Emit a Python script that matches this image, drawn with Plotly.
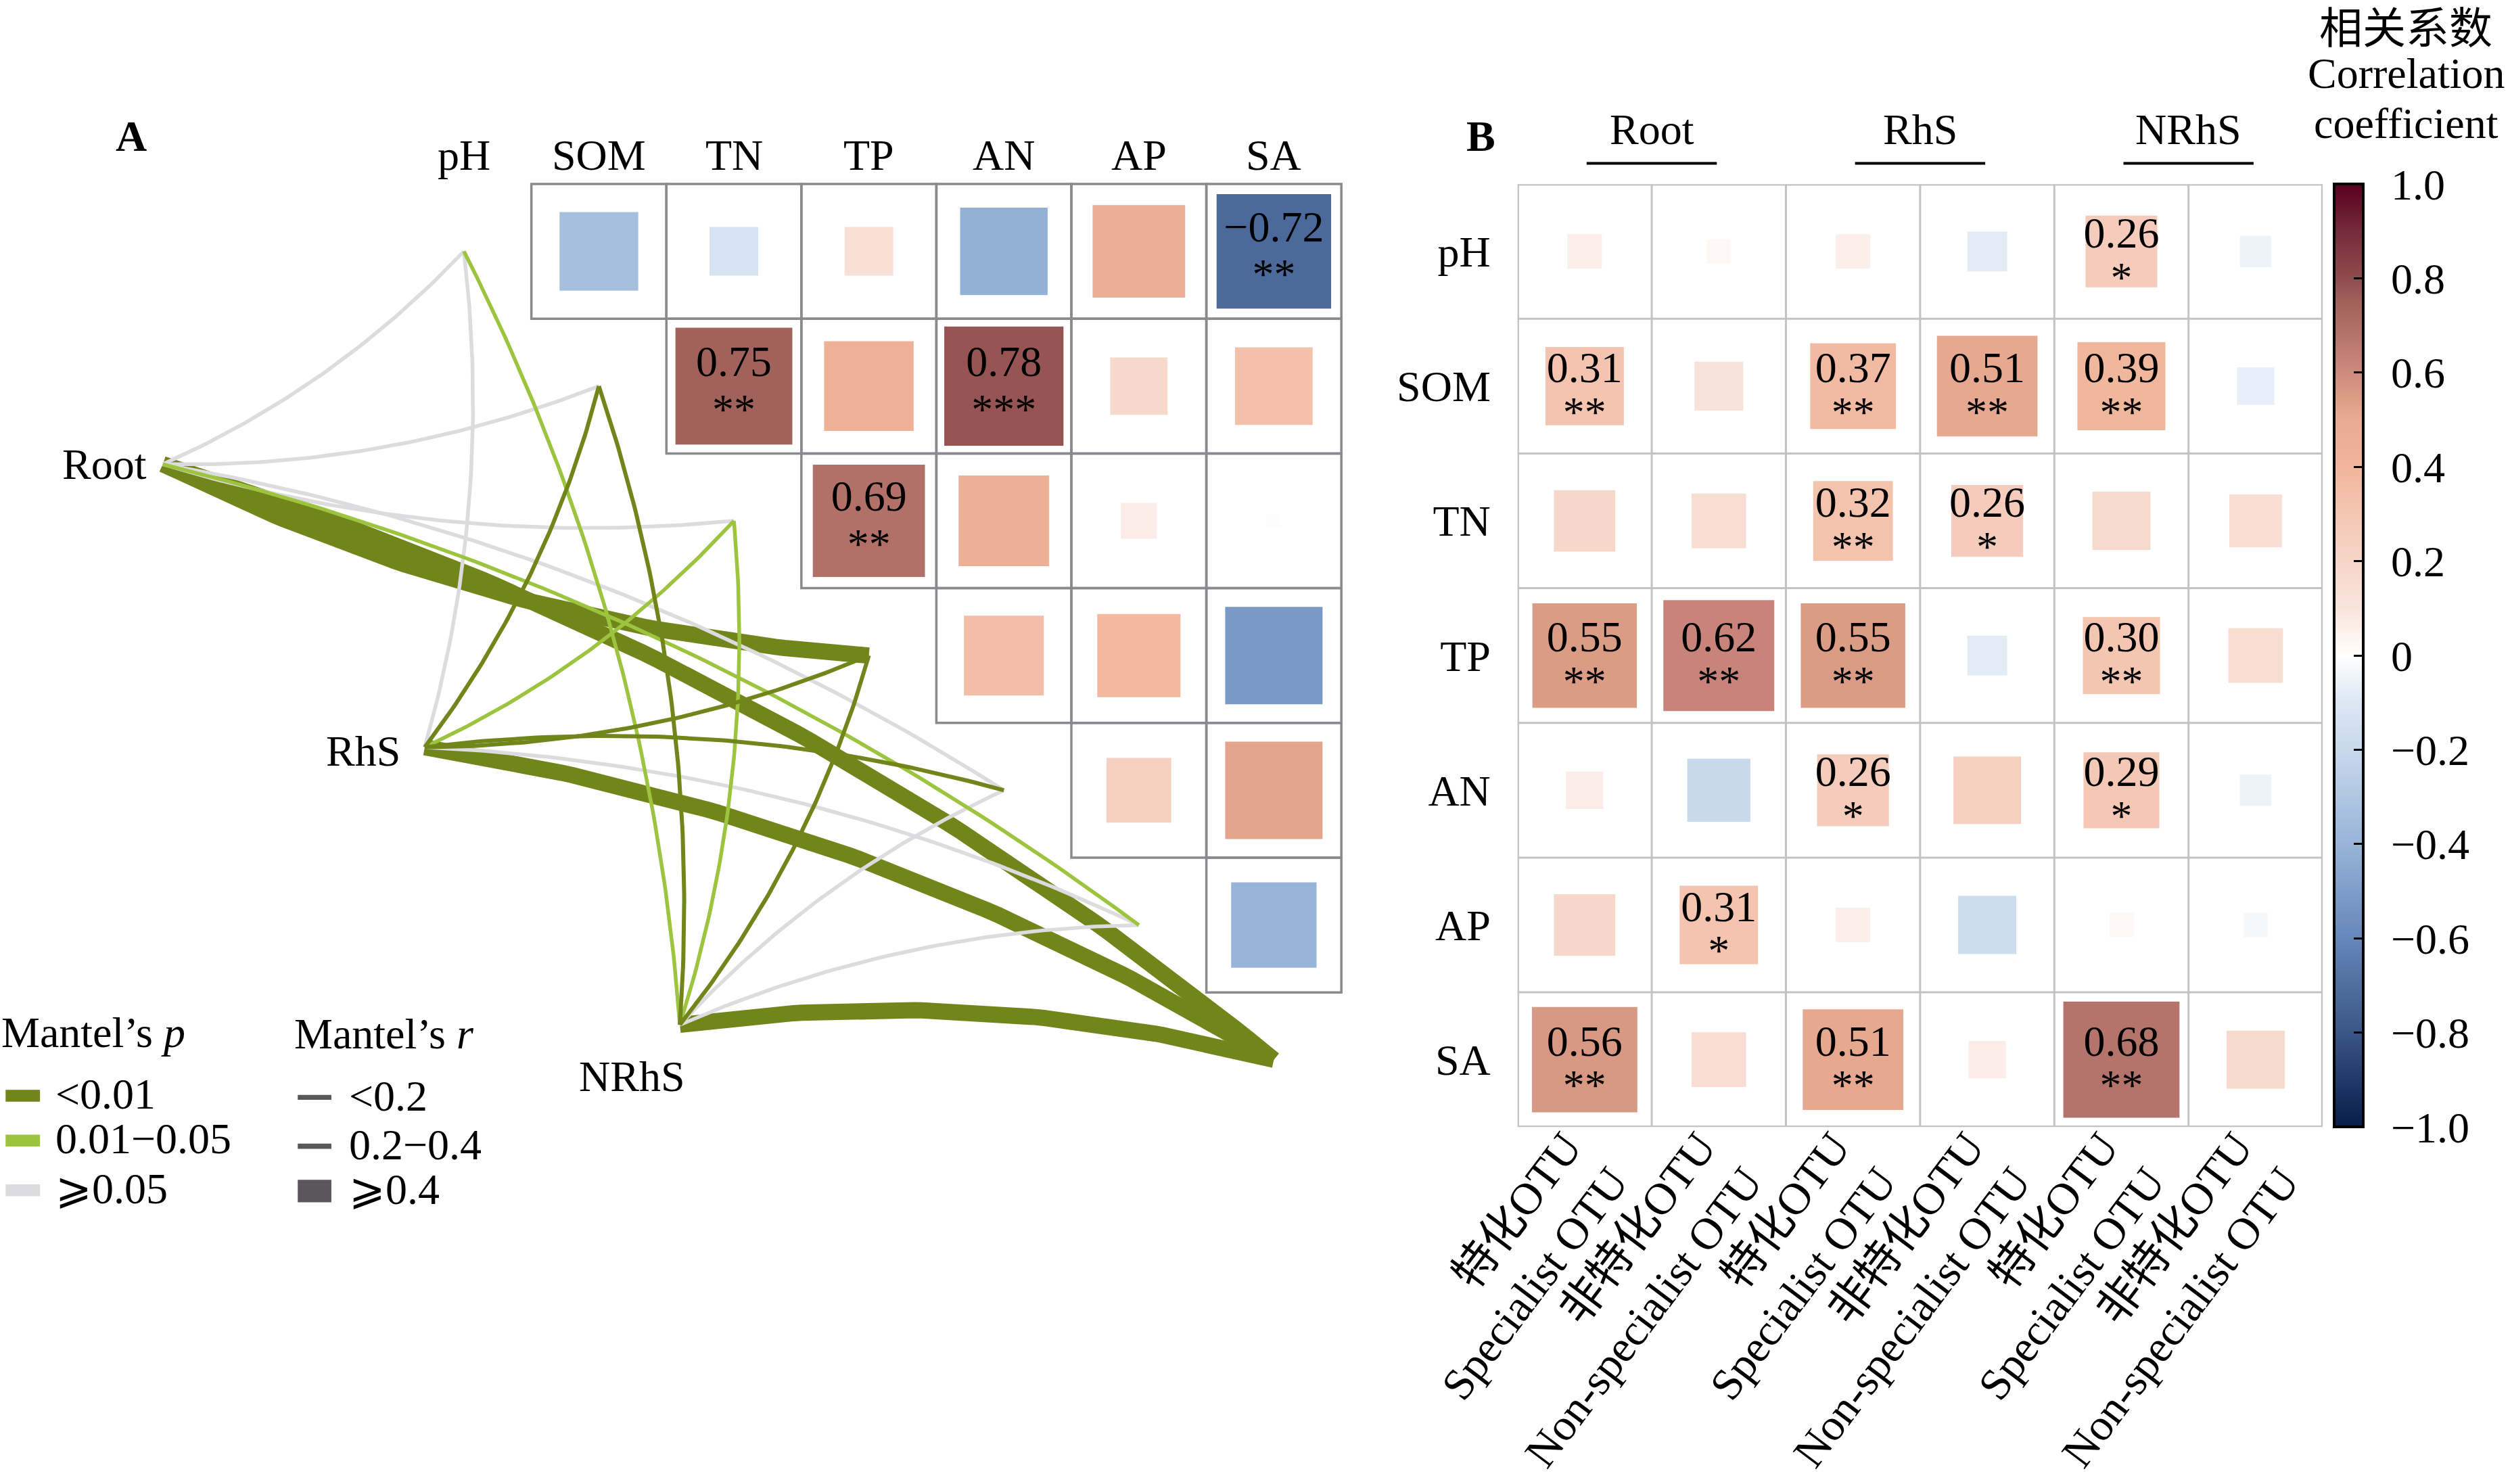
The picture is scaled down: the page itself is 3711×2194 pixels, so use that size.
import numpy as np
import plotly.graph_objects as go

W, H = 3711, 2194
K = W / 1568.0          # reference display px -> output px

FONT = "Liberation Serif, DejaVu Serif, Noto Sans CJK SC, serif"
FS = 64

# ---------------- data ----------------
env_vars = ["pH", "SOM", "TN", "TP", "AN", "AP", "SA"]

# Panel A: correlations among soil factors (upper triangle, row < column)
envA_row = ["pH"] * 6 + ["SOM"] * 5 + ["TN"] * 4 + ["TP"] * 3 + ["AN"] * 2 + ["AP"]
envA_col = ["SOM", "TN", "TP", "AN", "AP", "SA",
            "TN", "TP", "AN", "AP", "SA",
            "TP", "AN", "AP", "SA",
            "AN", "AP", "SA",
            "AP", "SA",
            "SA"]
envA_r = [-0.34, -0.13, 0.13, -0.42, 0.47, -0.72,
          0.75, 0.44, 0.78, 0.18, 0.33,
          0.69, 0.45, 0.07, 0.01,
          0.35, 0.38, -0.52,
          0.23, 0.52,
          -0.40]
envA_sig = ["", "", "", "", "", "**",
            "**", "", "***", "", "",
            "**", "", "", "",
            "", "", "",
            "", "",
            ""]

# Mantel tests: community -> soil factor
mantel_source = ["Root"] * 7 + ["RhS"] * 7 + ["NRhS"] * 7
mantel_var = env_vars * 3
mantel_r = [0.08, 0.10, 0.06, 0.46, 0.09, 0.17, 0.52,
            0.05, 0.26, 0.18, 0.28, 0.24, 0.07, 0.47,
            0.16, 0.25, 0.19, 0.27, 0.04, 0.09, 0.55]
mantel_p = [0.31, 0.22, 0.45, 0.001, 0.18, 0.03, 0.001,
            0.35, 0.004, 0.02, 0.006, 0.008, 0.27, 0.001,
            0.04, 0.005, 0.03, 0.004, 0.41, 0.16, 0.001]

# Panel B: correlations of OTU groups with soil factors
groupsB = ["Root", "RhS", "NRhS"]
colsB = ["特化OTU<br>Specialist OTU", "非特化OTU<br>Non-specialist OTU"] * 3
rB = [
    [0.06, 0.03, 0.06, -0.08, 0.26, -0.05],   # pH
    [0.31, 0.12, 0.37, 0.51, 0.39, -0.07],    # SOM
    [0.19, 0.15, 0.32, 0.26, 0.17, 0.14],     # TN
    [0.55, 0.62, 0.55, -0.08, 0.30, 0.15],    # TP
    [0.07, -0.20, 0.26, 0.23, 0.29, -0.05],   # AN
    [0.19, 0.31, 0.06, -0.17, 0.03, -0.03],   # AP
    [0.56, 0.15, 0.51, 0.07, 0.68, 0.17],     # SA
]
sigB = [
    ["", "", "", "", "*", ""],
    ["**", "", "**", "**", "**", ""],
    ["", "", "**", "*", "", ""],
    ["**", "**", "**", "", "**", ""],
    ["", "", "*", "", "*", ""],
    ["", "*", "", "", "", ""],
    ["**", "", "**", "", "**", ""],
]

cbar_vals = [1.0, 0.8, 0.6, 0.4, 0.2, 0.0, -0.2, -0.4, -0.6, -0.8, -1.0]
cbar_text = ["1.0", "0.8", "0.6", "0.4", "0.2", "0", "−0.2", "−0.4", "−0.6", "−0.8", "−1.0"]

# ---------------- styles ----------------
cs_pts = [(-1.0, "#081D4A"), (-0.8, "#3A5686"), (-0.6, "#6587BA"), (-0.4, "#98B4D8"),
          (-0.2, "#C8D9EC"), (-0.1, "#DCE7F3"), (0.0, "#FFFFFF"), (0.1, "#F9E4DC"),
          (0.2, "#F6D6C8"), (0.3, "#F4C6B2"), (0.4, "#F1B59B"), (0.5, "#E9AB91"),
          (0.55, "#DB9C86"), (0.62, "#C8847A"), (0.68, "#B4736B"), (0.75, "#A0625A"),
          (0.8, "#904B4E"), (0.9, "#752B3A"), (1.0, "#58001F")]
colorscale = [[(v + 1) / 2, c] for v, c in cs_pts]

P_DARK, P_LIGHT, P_GRAY = "#71851A", "#9DC43F", "#DCDCDF"


def p_color(p):
    return P_DARK if p < 0.01 else (P_LIGHT if p < 0.05 else P_GRAY)


def r_width(r):
    return 5.5 if r < 0.2 else (6.0 if r < 0.4 else 24)


# panel A geometry (cell units; node of each factor sits on the diagonal)
node_pos = {"Root": (-2.23, 1.58), "RhS": (-0.29, 3.68), "NRhS": (1.60, 5.74)}
cellA = 84.33 * K
cellB = 83.8 * K

fig = go.Figure()

# ---------------- Panel A: Mantel links ----------------
def curve(x0, y0, x1, y1, c, n=80):
    dx, dy = x1 - x0, y1 - y0
    cx = (x0 + x1) / 2 - c * dy
    cy = (y0 + y1) / 2 + c * dx
    t = np.linspace(0, 1, n)
    xs = (1 - t) ** 2 * x0 + 2 * (1 - t) * t * cx + t ** 2 * x1
    ys = (1 - t) ** 2 * y0 + 2 * (1 - t) * t * cy + t ** 2 * y1
    return xs, ys

links = list(zip(mantel_source, mantel_var, mantel_r, mantel_p))
order = sorted(range(len(links)),
               key=lambda k: (0 if links[k][2] >= 0.4 else 1,
                              {P_GRAY: 0, P_LIGHT: 1, P_DARK: 2}[p_color(links[k][3])]))
for k in order:
    src, var, r, p = links[k]
    vi = env_vars.index(var)
    x0, y0 = node_pos[src]
    c = 0.1 if vi <= 3 else -0.1
    xs, ys = curve(x0, y0, vi, vi, c)
    fig.add_trace(go.Scatter(x=xs, y=ys, mode="lines", xaxis="x", yaxis="y",
                             line=dict(color=p_color(p), width=r_width(r)),
                             hoverinfo="skip", showlegend=False))

# ---------------- Panel A: correlation squares ----------------
shapes = []
for a, b in zip(envA_row, envA_col):
    i, j = env_vars.index(a), env_vars.index(b)
    shapes.append(dict(type="rect", xref="x", yref="y", x0=j - 0.5, x1=j + 0.5,
                       y0=i - 0.5, y1=i + 0.5, line=dict(color="#8A898D", width=3.5),
                       fillcolor="rgba(0,0,0,0)", layer="below"))

xa = [env_vars.index(b) for b in envA_col]
ya = [env_vars.index(a) for a in envA_row]
fig.add_trace(go.Scatter(
    x=xa, y=ya, mode="markers", xaxis="x", yaxis="y",
    marker=dict(symbol="square", size=[np.sqrt(abs(r)) * cellA for r in envA_r],
                color=envA_r, colorscale=colorscale, cmin=-1, cmax=1, opacity=1,
                line=dict(width=0)),
    hoverinfo="skip", showlegend=False))

ta = [k for k, s in enumerate(envA_sig) if s]
fig.add_trace(go.Scatter(
    x=[xa[k] for k in ta], y=[ya[k] - 0.155 for k in ta], mode="text",
    text=[f"{envA_r[k]:.2f}".replace("-", "−") for k in ta], xaxis="x", yaxis="y",
    textfont=dict(family=FONT, size=FS, color="black"), hoverinfo="skip", showlegend=False))
fig.add_trace(go.Scatter(
    x=[xa[k] for k in ta], y=[ya[k] + 0.20 for k in ta], mode="text",
    text=[envA_sig[k] for k in ta], xaxis="x", yaxis="y",
    textfont=dict(family=FONT, size=FS, color="black"), hoverinfo="skip", showlegend=False))

# ---------------- Panel B ----------------
xb, yb, vb = [], [], []
for i in range(len(env_vars)):
    for j in range(len(colsB)):
        xb.append(j); yb.append(i); vb.append(rB[i][j])

fig.add_trace(go.Scatter(
    x=xb, y=yb, mode="markers", xaxis="x2", yaxis="y2",
    marker=dict(symbol="square", size=[min(np.sqrt(abs(v)) * 1.05, 0.95) * cellB for v in vb],
                color=vb, colorscale=colorscale, cmin=-1, cmax=1, line=dict(width=0),
                opacity=1, showscale=True,
                colorbar=dict(x=1458 / 1568, xanchor="left", y=1 - (115 + 704) / 2 / 927,
                              yanchor="middle", len=589 / 927, lenmode="fraction",
                              thickness=43, thicknessmode="pixels", xpad=0, ypad=0,
                              outlinecolor="black", outlinewidth=4,
                              ticks="inside", ticklen=16, tickwidth=3, tickcolor="black",
                              tickvals=cbar_vals,
                              ticktext=["\u2009\u2009" + t for t in cbar_text],
                              tickfont=dict(family=FONT, size=FS, color="black"))),
    hoverinfo="skip", showlegend=False))

tb = [k for k in range(len(vb)) if sigB[yb[k]][xb[k]]]
fig.add_trace(go.Scatter(
    x=[xb[k] for k in tb], y=[yb[k] - 0.11 for k in tb], mode="text",
    text=[f"{vb[k]:.2f}" for k in tb], xaxis="x2", yaxis="y2",
    textfont=dict(family=FONT, size=FS, color="black"), hoverinfo="skip", showlegend=False))
fig.add_trace(go.Scatter(
    x=[xb[k] for k in tb], y=[yb[k] + 0.22 for k in tb], mode="text",
    text=[sigB[yb[k]][xb[k]] for k in tb], xaxis="x2", yaxis="y2",
    textfont=dict(family=FONT, size=FS, color="black"), hoverinfo="skip", showlegend=False))

GRID = "#C3C3C3"
for j in range(len(colsB) + 1):
    edge = j in (0, len(colsB))
    shapes.append(dict(type="line", xref="x2", yref="y2", x0=j - 0.5, x1=j - 0.5,
                       y0=-0.5, y1=len(env_vars) - 0.5,
                       line=dict(color=GRID, width=4.5 if edge else 3), layer="below"))
for i in range(len(env_vars) + 1):
    edge = i in (0, len(env_vars))
    shapes.append(dict(type="line", xref="x2", yref="y2", x0=-0.5, x1=len(colsB) - 0.5,
                       y0=i - 0.5, y1=i - 0.5,
                       line=dict(color=GRID, width=4.5 if edge else 3), layer="below"))

annotations = []
# group headers
for g, name in enumerate(groupsB):
    cx = 2 * g + 0.5
    annotations.append(dict(text=name, xref="x2", yref="paper", x=cx, y=1 - 81 / 927,
                            xanchor="center", yanchor="middle", showarrow=False,
                            font=dict(family=FONT, size=FS, color="black")))
    shapes.append(dict(type="line", xref="x2", yref="paper", x0=cx - 0.485, x1=cx + 0.485,
                       y0=1 - 102 / 927, y1=1 - 102 / 927, line=dict(color="black", width=4)))

# panel A column labels and node labels
for j, v in enumerate(env_vars):
    annotations.append(dict(text=v, xref="x", yref="y", x=j, y=-0.713, xanchor="center",
                            yanchor="middle", showarrow=False,
                            font=dict(family=FONT, size=FS, color="black")))
annotations.append(dict(text="Root", xref="x", yref="y", x=node_pos["Root"][0], y=node_pos["Root"][1],
                        xanchor="right", yanchor="middle", xshift=-22, showarrow=False,
                        font=dict(family=FONT, size=FS, color="black")))
annotations.append(dict(text="RhS", xref="x", yref="y", x=node_pos["RhS"][0], y=node_pos["RhS"][1],
                        xanchor="right", yanchor="middle", xshift=-34, yshift=-6, showarrow=False,
                        font=dict(family=FONT, size=FS, color="black")))
annotations.append(dict(text="NRhS", xref="x", yref="y", x=node_pos["NRhS"][0], y=node_pos["NRhS"][1],
                        xanchor="center", yanchor="middle", xshift=-71, yshift=-76, showarrow=False,
                        font=dict(family=FONT, size=FS, color="black")))

# panel tags
for txt, px, py in [("A", 82, 85), ("B", 925, 85)]:
    annotations.append(dict(text=f"<b>{txt}</b>", xref="paper", yref="paper", x=px / 1568,
                            y=1 - py / 927, xanchor="center", yanchor="middle", showarrow=False,
                            font=dict(family=FONT, size=FS, color="black")))

# colorbar title
for txt, py in [("相关系数", 18), ("Correlation", 46), ("coefficient", 77)]:
    annotations.append(dict(text=txt, xref="paper", yref="paper", x=1503 / 1568, y=1 - py / 927,
                            xanchor="center", yanchor="middle", showarrow=False,
                            font=dict(family=FONT, size=FS, color="black")))

# Mantel legends
def ptx(v):
    return v / 1568

def pty(v):
    return 1 - v / 927

annotations.append(dict(text="Mantel’s <i>p</i>", xref="paper", yref="paper", x=0, y=pty(645),
                        xanchor="left", yanchor="middle", showarrow=False,
                        font=dict(family=FONT, size=FS, color="black")))
annotations.append(dict(text="Mantel’s <i>r</i>", xref="paper", yref="paper", x=ptx(183), y=pty(646),
                        xanchor="left", yanchor="middle", showarrow=False,
                        font=dict(family=FONT, size=FS, color="black")))
p_leg = [("<0.01", P_DARK, 684.5), ("0.01−0.05", P_LIGHT, 712.5), ("⩾0.05", P_GRAY, 743.5)]
for txt, col, yc in p_leg:
    shapes.append(dict(type="rect", xref="paper", yref="paper", x0=ptx(3.5), x1=ptx(25),
                       y0=pty(yc + 3.7), y1=pty(yc - 3.7), fillcolor=col, line=dict(width=0)))
    annotations.append(dict(text=txt, xref="paper", yref="paper", x=ptx(34), y=pty(yc - 1),
                            xanchor="left", yanchor="middle", showarrow=False,
                            font=dict(family=FONT, size=FS, color="black")))
r_leg = [("<0.2", 685.5, 1.5), ("0.2−0.4", 716, 1.6), ("⩾0.4", 744, 7.0)]
for txt, yc, hh in r_leg:
    shapes.append(dict(type="rect", xref="paper", yref="paper", x0=ptx(186), x1=ptx(207),
                       y0=pty(yc + hh), y1=pty(yc - hh), fillcolor="#595759", line=dict(width=0)))
    annotations.append(dict(text=txt, xref="paper", yref="paper", x=ptx(217), y=pty(yc - 1),
                            xanchor="left", yanchor="middle", showarrow=False,
                            font=dict(family=FONT, size=FS, color="black")))

fig.update_layout(
    template="none",
    width=W, height=H, autosize=False,
    margin=dict(l=0, r=0, t=0, b=0, pad=0, autoexpand=False),
    paper_bgcolor="white", plot_bgcolor="rgba(0,0,0,0)",
    showlegend=False,
    xaxis=dict(domain=[0, 880 / 1568], range=[(0 - 289.8) / 84.33, (880 - 289.8) / 84.33],
               visible=False, fixedrange=True, automargin=False),
    yaxis=dict(domain=[0, 1], range=[(927 - 157) / 84.17, (0 - 157) / 84.17],
               visible=False, fixedrange=True, automargin=False),
    xaxis2=dict(domain=[948 / 1568, 1451 / 1568], range=[-0.5, 5.5], anchor="y2",
                tickmode="array", tickvals=list(range(6)), ticktext=colsB, tickangle=-53,
                ticks="", ticklabelshift=-28, ticklabelstandoff=-24,
                showgrid=False, zeroline=False, showline=False, automargin=False,
                tickfont=dict(family=FONT, size=66, color="black")),
    yaxis2=dict(domain=[1 - 704 / 927, 1 - 115 / 927], range=[6.5, -0.5], anchor="x2",
                tickmode="array", tickvals=list(range(7)), ticktext=env_vars,
                ticks="outside", ticklen=26, tickcolor="rgba(0,0,0,0)",
                showgrid=False, zeroline=False, showline=False, automargin=False,
                tickfont=dict(family=FONT, size=FS, color="black")),
    shapes=shapes, annotations=annotations,
)

fig.write_html("out.html", config={"displayModeBar": False},
               post_script="document.body.style.margin='0';document.body.style.padding='0';")
